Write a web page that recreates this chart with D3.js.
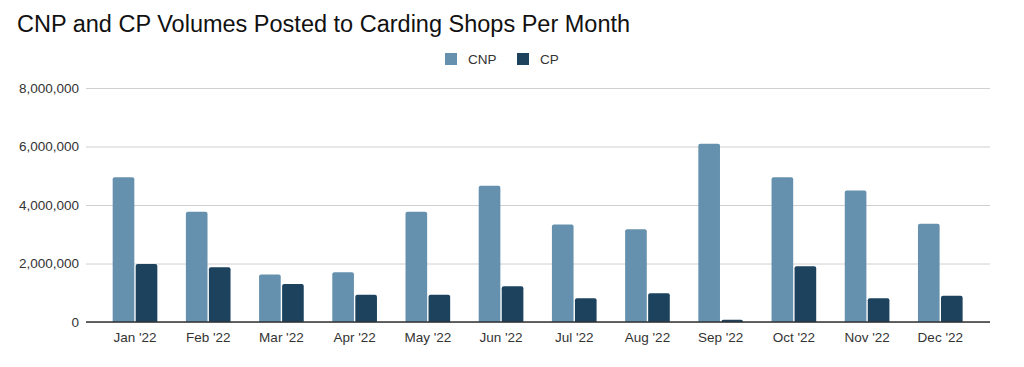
<!DOCTYPE html>
<html>
<head>
<meta charset="utf-8">
<script src="https://cdn.jsdelivr.net/npm/d3@7"></script>
<style>
  html, body { margin: 0; padding: 0; background: #fff; }
  svg { display: block; font-family: "Liberation Sans", Arial, sans-serif; }
</style>
</head>
<body>
<svg id="chart" width="1024" height="367"></svg>
<script>
const months = ["Jan '22","Feb '22","Mar '22","Apr '22","May '22","Jun '22","Jul '22","Aug '22","Sep '22","Oct '22","Nov '22","Dec '22"];
const seriesNames = ["CNP", "CP"];
const cnpValues = [4950000, 3770000, 1620000, 1700000, 3770000, 4660000, 3330000, 3170000, 6090000, 4950000, 4500000, 3360000];
const cpValues  = [1980000, 1870000, 1300000, 930000, 930000, 1220000, 810000, 980000, 80000, 1910000, 810000, 900000];
const yTicks = [0, 2000000, 4000000, 6000000, 8000000];
const colors = ["#6591ae", "#1c425e"];

const svg = d3.select("#chart");
const plotLeft = 86, plotRight = 990, plotTop = 88, plotBottom = 322;

const y = d3.scaleLinear().domain([0, 8000000]).range([plotBottom, plotTop]);
const x0 = d3.scaleBand().domain(months).range([98.4, 976.9]).paddingInner(0.39).paddingOuter(0.195);
const x1 = d3.scaleBand().domain(seriesNames).range([0, x0.bandwidth()]).paddingInner(0.06);
const color = d3.scaleOrdinal().domain(seriesNames).range(colors);

// title
svg.append("text").attr("x", 17).attr("y", 32)
  .attr("font-size", 23.5).attr("fill", "#111")
  .text("CNP and CP Volumes Posted to Carding Shops Per Month");

// legend
const legendPos = [{x: 445, tx: 468}, {x: 517, tx: 540}];
seriesNames.forEach((s, i) => {
  svg.append("rect").attr("x", legendPos[i].x).attr("y", 53).attr("width", 12).attr("height", 12)
    .attr("fill", color(s));
  svg.append("text").attr("x", legendPos[i].tx).attr("y", 59).attr("dy", "0.35em")
    .attr("font-size", 13.5).attr("fill", "#333").text(s);
});

// gridlines
const yAxis = d3.axisLeft(y).tickValues(yTicks).tickFormat(d3.format(",")).tickSize(-(plotRight - plotLeft)).tickPadding(7);
const gy = svg.append("g").attr("transform", `translate(${plotLeft},0)`).call(yAxis);
gy.select(".domain").remove();
gy.selectAll(".tick line").attr("stroke", "#d0d0d0").attr("stroke-width", 1);
gy.selectAll(".tick text").attr("font-size", 13.5).attr("fill", "#333").attr("font-family", "Liberation Sans, Arial, sans-serif");

// bars
const data = months.map((m, i) => ({month: m, CNP: cnpValues[i], CP: cpValues[i]}));
function barPath(xp, yp, w, h, r) {
  r = Math.min(r, h, w / 2);
  return `M${xp},${yp + h}V${yp + r}Q${xp},${yp} ${xp + r},${yp}H${xp + w - r}Q${xp + w},${yp} ${xp + w},${yp + r}V${yp + h}Z`;
}
const groups = svg.append("g").selectAll("g").data(data).join("g")
  .attr("transform", d => `translate(${x0(d.month)},0)`);
groups.selectAll("path").data(d => seriesNames.map(s => ({key: s, value: d[s]}))).join("path")
  .attr("fill", d => color(d.key))
  .attr("d", d => barPath(x1(d.key), y(d.value), x1.bandwidth(), y(0) - y(d.value), 2));

// x axis
const xAxis = d3.axisBottom(x0).tickSize(0).tickPadding(10);
const gx = svg.append("g").attr("transform", `translate(0,${plotBottom})`).call(xAxis);
gx.select(".domain").remove();
gx.selectAll(".tick text").attr("font-size", 13.5).attr("fill", "#333").attr("font-family", "Liberation Sans, Arial, sans-serif");
svg.append("line").attr("x1", plotLeft).attr("x2", plotRight).attr("y1", plotBottom).attr("y2", plotBottom)
  .attr("stroke", "#333").attr("stroke-width", 1.3);
</script>
</body>
</html>
